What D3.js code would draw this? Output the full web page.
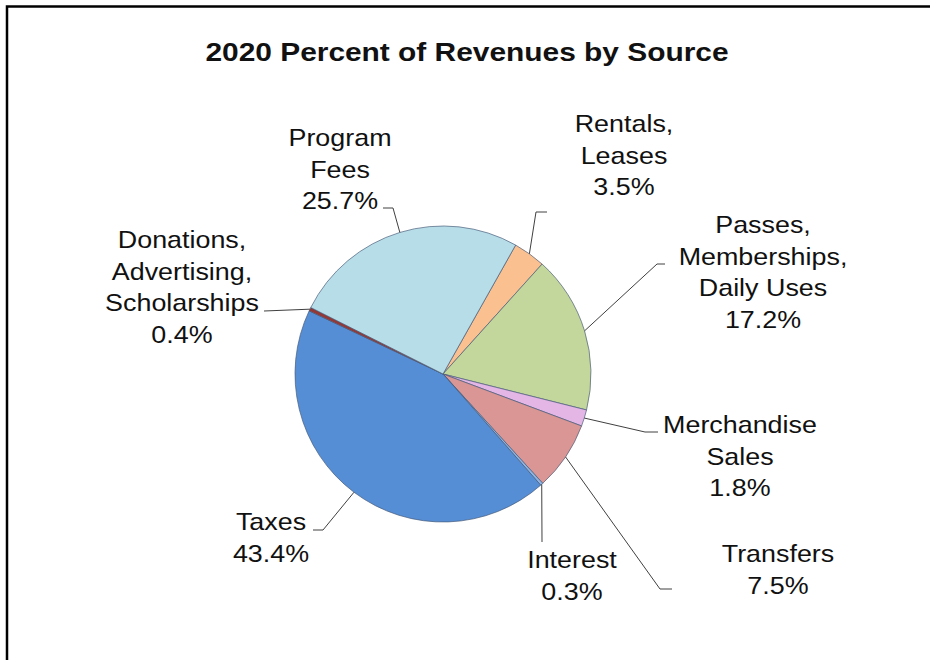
<!DOCTYPE html>
<html>
<head>
<meta charset="utf-8">
<script src="https://cdn.jsdelivr.net/npm/d3@7"></script>
<style>
  html, body { margin: 0; padding: 0; background: #fff; }
  svg { display: block; }
  text { font-family: "Liberation Sans", Arial, sans-serif; fill: #111; }
</style>
</head>
<body>
<svg id="chart" width="930" height="660"></svg>
<script>
// Revenue sources, clockwise from the Rentals slice
const categories = ["Rentals, Leases", "Passes, Memberships, Daily Uses", "Merchandise Sales",
                    "Transfers", "Interest", "Taxes", "Donations, Advertising, Scholarships", "Program Fees"];
const percents = [3.5, 17.2, 1.8, 7.5, 0.3, 43.4, 0.4, 25.7];
const labelLines = [
  ["Rentals,", "Leases"],
  ["Passes,", "Memberships,", "Daily Uses"],
  ["Merchandise", "Sales"],
  ["Transfers"],
  ["Interest"],
  ["Taxes"],
  ["Donations,", "Advertising,", "Scholarships"],
  ["Program", "Fees"]
];
const sliceColors = ["#FAC090", "#C3D69B", "#E3B6E6", "#D99694", "#8EB4E3", "#558ED5", "#953735", "#B7DEE8"];

// Label placement: text block centre/first baseline, elbow point and end of leader line
const labelLayout = [
  { x: 624, y: 132, elbow: [536, 212], end: [547, 212] },
  { x: 763, y: 233, elbow: [657, 264], end: [665, 264] },
  { x: 740, y: 433, elbow: [645, 432], end: [658, 432] },
  { x: 778, y: 562, elbow: [660, 589], end: [672, 589] },
  { x: 572, y: 568, elbow: [542, 542], end: [542, 542] },
  { x: 271, y: 530, elbow: [323, 530], end: [313, 530] },
  { x: 182, y: 248, elbow: [264, 311], end: [264, 311] },
  { x: 340, y: 146, elbow: [393, 208], end: [383, 208] }
];

const svg = d3.select("#chart");
const cx = 443, cy = 374, radius = 148;
const lineH = 31.5;
const fontSize = 24, stretch = 1.12;

// Frame
svg.append("path")
  .attr("d", "M7,960 L7,6.5 L960,6.5")
  .attr("fill", "none").attr("stroke", "#000").attr("stroke-width", 2.5);

// Title
svg.append("text")
  .attr("transform", `translate(467,61) scale(1.15,1)`)
  .attr("text-anchor", "middle")
  .attr("font-size", 26).attr("font-weight", "bold")
  .text("2020 Percent of Revenues by Source");

const data = categories.map((c, i) => ({ name: c, value: percents[i], i }));
const startDeg = 29.4;
const pie = d3.pie().sort(null).value(d => d.value)
  .startAngle(startDeg * Math.PI / 180)
  .endAngle((startDeg + 360) * Math.PI / 180);
const arcs = pie(data);
const arc = d3.arc().innerRadius(0).outerRadius(radius);

const g = svg.append("g").attr("transform", `translate(${cx},${cy})`);
g.selectAll("path.slice")
  .data(arcs)
  .join("path")
  .attr("class", "slice")
  .attr("d", arc)
  .attr("fill", d => sliceColors[d.data.i])
  .attr("stroke", "rgba(70,90,120,0.75)")
  .attr("stroke-width", 0.9)
  .attr("stroke-linejoin", "round");

// Leader lines from the rim at each slice's mid-angle
arcs.forEach(a => {
  const L = labelLayout[a.data.i];
  const mid = (a.startAngle + a.endAngle) / 2;
  const sx = cx + radius * Math.sin(mid), sy = cy - radius * Math.cos(mid);
  svg.append("polyline")
    .attr("points", [[sx, sy], L.elbow, L.end].map(p => p.join(",")).join(" "))
    .attr("fill", "none").attr("stroke", "#404040").attr("stroke-width", 1);
});

// Labels: name lines followed by the percentage
arcs.forEach(a => {
  const L = labelLayout[a.data.i];
  const lines = labelLines[a.data.i].concat([d3.format(".1f")(a.data.value) + "%"]);
  lines.forEach((t, k) => {
    svg.append("text")
      .attr("transform", `translate(${L.x},${L.y + k * lineH}) scale(${stretch},1)`)
      .attr("text-anchor", "middle")
      .attr("font-size", fontSize)
      .text(t);
  });
});
</script>
</body>
</html>
